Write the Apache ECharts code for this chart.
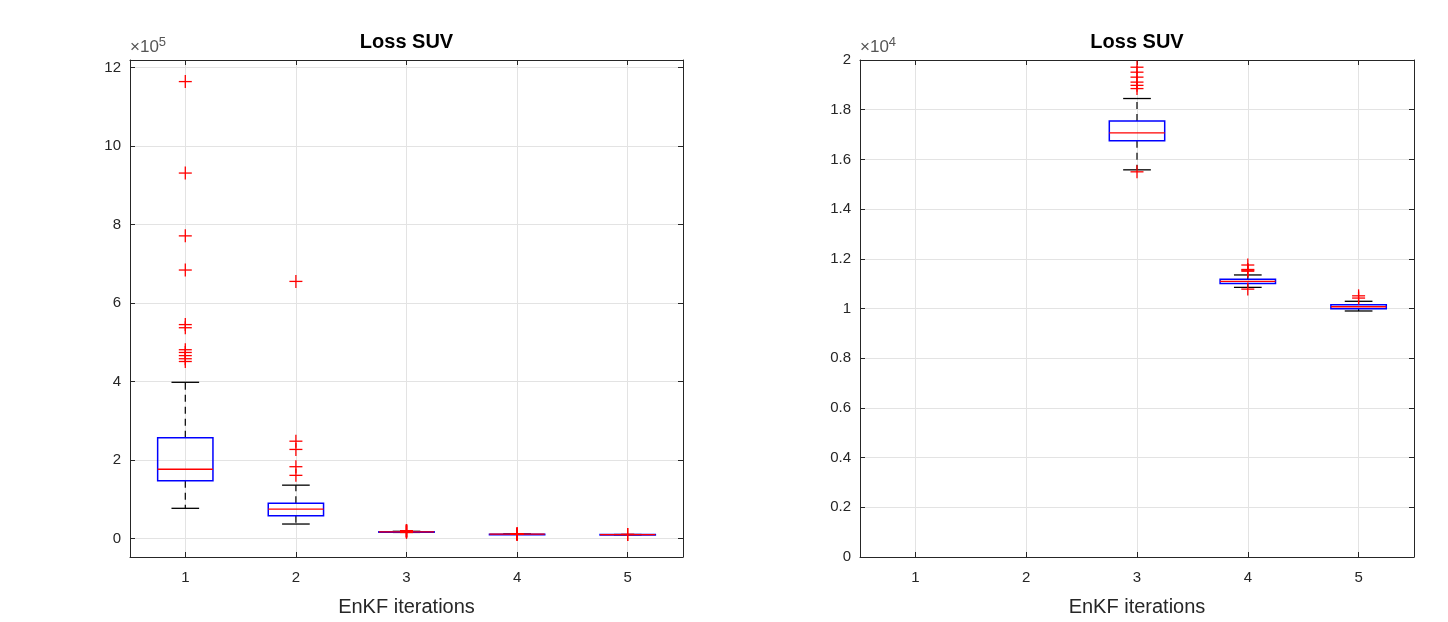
<!DOCTYPE html>
<html><head><meta charset="utf-8">
<script src="https://cdn.jsdelivr.net/npm/echarts@6/dist/echarts.min.js"></script>
<style>html,body{margin:0;padding:0;background:#fff}#c{width:1448px;height:622px}</style>
</head><body><div id="c"></div>
<script>
// ---- data (raw loss values) ----
const categories = [1, 2, 3, 4, 5];
const whiskerLow  = [77000, 37000, 15580, 10850, 9900];
const quart1      = [147000, 58000, 16750, 11010, 9990];
const medians     = [176500, 75000, 17070, 11090, 10070];
const quart3      = [257000, 90000, 17550, 11180, 10150];
const whiskerHigh = [398000, 136000, 18450, 11350, 10290];
const outliers = [
  [1164000, 931000, 771000, 684000, 545000, 537000, 481000, 474000, 466000, 458000, 451000],
  [655000, 248000, 227000, 183000, 161000],
  [19710, 19510, 19310, 19110, 18980, 18850, 15500],
  [11750, 11570, 11540, 11500, 10780],
  [10510, 10420]
];
const titleText = 'Loss SUV';
const xLabelText = 'EnKF iterations';
const leftYTicks = [0, 2, 4, 6, 8, 10, 12];
const rightYTicks = [0, 0.2, 0.4, 0.6, 0.8, 1, 1.2, 1.4, 1.6, 1.8, 2];
const leftScale = 1e5, rightScale = 1e4;

// ---- build ----
const FONT = 'Liberation Sans, Arial, Helvetica, sans-serif';
const AX = '#262626';
const GRIDC = '#e3e3e3';

function boxData(scale) {
  return categories.map((c, i) => [c, whiskerLow[i] / scale, quart1[i] / scale, medians[i] / scale, quart3[i] / scale, whiskerHigh[i] / scale]);
}
function outlierData(scale) {
  const d = [];
  categories.forEach((c, i) => outliers[i].forEach(v => d.push([c, v / scale])));
  return d;
}
function renderBox(params, api) {
  const x = api.value(0);
  const wl = api.value(1), a = api.value(2), m = api.value(3), b = api.value(4), wh = api.value(5);
  const xl = api.coord([x - 0.25, 0])[0], xr = api.coord([x + 0.25, 0])[0];
  const cl = api.coord([x - 0.125, 0])[0], cr = api.coord([x + 0.125, 0])[0];
  const cx = api.coord([x, 0])[0];
  const Y = v => api.coord([x, v])[1];
  const yWl = Y(wl), yA = Y(a), yM = Y(m), yB = Y(b), yWh = Y(wh);
  const blk = { stroke: '#000', lineWidth: 1.2, lineDash: [7, 5] };
  return {
    type: 'group',
    children: [
      { type: 'line', shape: { x1: cx, y1: yB, x2: cx, y2: yWh }, style: blk },
      { type: 'line', shape: { x1: cx, y1: yA, x2: cx, y2: yWl }, style: blk },
      { type: 'line', shape: { x1: cl, y1: yWh, x2: cr, y2: yWh }, style: { stroke: '#000', lineWidth: 1.3 } },
      { type: 'line', shape: { x1: cl, y1: yWl, x2: cr, y2: yWl }, style: { stroke: '#000', lineWidth: 1.3 } },
      { type: 'rect', shape: { x: xl, y: yB, width: xr - xl, height: Math.max(yA - yB, 0.5) }, style: { fill: 'none', stroke: '#0000ff', lineWidth: 1.5 } },
      { type: 'line', shape: { x1: xl, y1: yM, x2: xr, y2: yM }, style: { stroke: '#ff0000', lineWidth: 1.3 } }
    ]
  };
}
function renderPlus(params, api) {
  const p = api.coord([api.value(0), api.value(1)]);
  const s = 6.5;
  return {
    type: 'group',
    children: [
      { type: 'line', shape: { x1: p[0] - s, y1: p[1], x2: p[0] + s, y2: p[1] }, style: { stroke: '#ff0000', lineWidth: 1.3 } },
      { type: 'line', shape: { x1: p[0], y1: p[1] - s, x2: p[0], y2: p[1] + s }, style: { stroke: '#ff0000', lineWidth: 1.3 } }
    ]
  };
}
const tickLbl = { color: AX, fontSize: 15, fontFamily: FONT };
function xAxes(gi) {
  const base = { type: 'value', gridIndex: gi, min: 0.5, max: 5.5,
    axisLine: { show: true, onZero: false, lineStyle: { color: AX, width: 1 } },
    axisTick: { show: true, inside: true, length: 5, customValues: categories, lineStyle: { color: AX } },
    axisLabel: { show: true, customValues: categories, margin: 13, ...tickLbl },
    splitLine: { show: true, lineStyle: { color: GRIDC, width: 1 } } };
  return [
    { ...base, position: 'bottom', name: xLabelText, nameLocation: 'middle', nameGap: 40,
      nameTextStyle: { color: AX, fontSize: 20, fontFamily: FONT } },
    { ...base, position: 'top', axisLabel: { show: false, customValues: categories }, splitLine: { show: false } }
  ];
}
function yAxes(gi, min, max, ticks) {
  const base = { type: 'value', gridIndex: gi, min: min, max: max,
    axisLine: { show: true, onZero: false, lineStyle: { color: AX, width: 1 } },
    axisTick: { show: true, inside: true, length: 5, customValues: ticks, lineStyle: { color: AX } },
    axisLabel: { show: true, customValues: ticks, margin: 9, ...tickLbl },
    splitLine: { show: true, lineStyle: { color: GRIDC, width: 1 } } };
  return [
    { ...base, position: 'left' },
    { ...base, position: 'right', axisLabel: { show: false, customValues: ticks }, splitLine: { show: false } }
  ];
}

const chart = echarts.init(document.getElementById('c'), null, { renderer: 'canvas' });
const grids = [
  { left: 130, top: 60, width: 553, height: 498 },
  { left: 860, top: 60, width: 554, height: 500 }
];
const rich = { a: { fontSize: 17, fontFamily: FONT, fill: '#555', color: '#555' }, b: { fontSize: 13, fontFamily: FONT, fill: '#555', color: '#555', verticalAlign: 'top', padding: [0, 0, 9, 0] } };
const option = {
  animation: false,
  backgroundColor: '#fff',
  grid: grids,
  xAxis: [...xAxes(0), ...xAxes(1)],
  yAxis: [...yAxes(0, -0.47, 12.19, leftYTicks), ...yAxes(1, 0, 2, rightYTicks)],
  series: [
    { type: 'custom', xAxisIndex: 0, yAxisIndex: 0, clip: true, renderItem: renderBox, data: boxData(leftScale), z: 2 },
    { type: 'custom', xAxisIndex: 0, yAxisIndex: 0, clip: true, renderItem: renderPlus, data: outlierData(leftScale), z: 3 },
    { type: 'custom', xAxisIndex: 2, yAxisIndex: 2, clip: true, renderItem: renderBox, data: boxData(rightScale), z: 2 },
    { type: 'custom', xAxisIndex: 2, yAxisIndex: 2, clip: true, renderItem: renderPlus, data: outlierData(rightScale), z: 3 }
  ],
  graphic: [
    { type: 'text', x: 406.5, y: 42, style: { text: titleText, align: 'center', verticalAlign: 'middle', textAlign: 'center', textVerticalAlign: 'middle', fill: '#000', font: 'bold 20px ' + FONT } },
    { type: 'text', x: 1137, y: 42, style: { text: titleText, align: 'center', verticalAlign: 'middle', textAlign: 'center', textVerticalAlign: 'middle', fill: '#000', font: 'bold 20px ' + FONT } },
    { type: 'text', x: 130, y: 47, style: { text: '{a|×10}{b|5}', verticalAlign: 'middle', textVerticalAlign: 'middle', rich: rich } },
    { type: 'text', x: 860, y: 47, style: { text: '{a|×10}{b|4}', verticalAlign: 'middle', textVerticalAlign: 'middle', rich: rich } }
  ]
};
chart.setOption(option);
</script></body></html>
